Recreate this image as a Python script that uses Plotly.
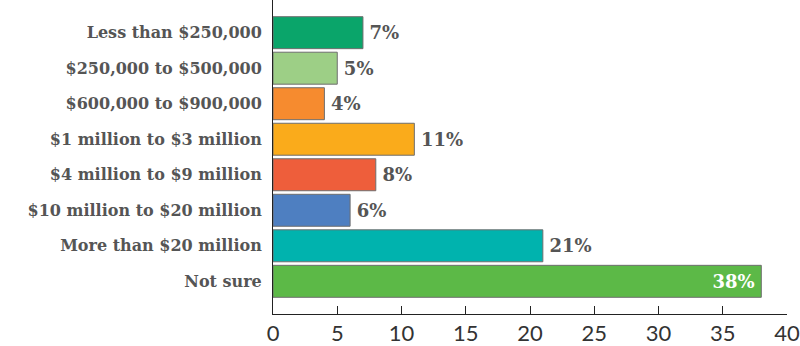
import plotly.graph_objects as go

categories = ["Less than $250,000", "$250,000 to $500,000", "$600,000 to $900,000",
              "$1 million to $3 million", "$4 million to $9 million",
              "$10 million to $20 million", "More than $20 million", "Not sure"]
values = [7, 5, 4, 11, 8, 6, 21, 38]
colors = ["#0aa56a", "#9dcf86", "#f68b2f", "#faab1b", "#ee5e3b", "#4e7fc1", "#00b3ae", "#5cb947"]
x_ticks = [0, 5, 10, 15, 20, 25, 30, 35, 40]

label_font = "DejaVu Serif"
n = len(values)
text_pos = ["outside"] * (n - 1) + ["inside"]
text_col = ["#555555"] * (n - 1) + ["white"]
texts = [("\u2009" + f"{v}%") if i < n - 1 else (f"{v}%" + "\u2009") for i, v in enumerate(values)]

fig = go.Figure(go.Bar(
    y=categories, x=values, orientation="h",
    marker=dict(color=colors, line=dict(color="#6e6e6e", width=1)),
    width=0.9,
    text=texts,
    textposition=text_pos,
    insidetextanchor="end",
    textfont=dict(family=label_font, size=18, color=text_col, weight="bold"),
    cliponaxis=False,
))

fig.update_layout(
    width=800, height=346,
    margin=dict(l=273, r=13, t=0, b=30),
    paper_bgcolor="white", plot_bgcolor="white",
    showlegend=False,
    xaxis=dict(range=[0, 40], tickvals=x_ticks, ticks="inside", ticklen=8,
               tickcolor="#222", showline=True, linecolor="#222", linewidth=1,
               showgrid=False, zeroline=False,
               tickfont=dict(family="Lato", size=22, color="#333")),
    yaxis=dict(categoryorder="array", categoryarray=categories,
               range=[7.92, -0.92], showline=True, linecolor="#222", linewidth=1,
               showgrid=False, ticks="", ticklabelstandoff=7,
               tickfont=dict(family=label_font, size=16, color="#555555", weight="bold")),
)

fig.write_html("out.html")
